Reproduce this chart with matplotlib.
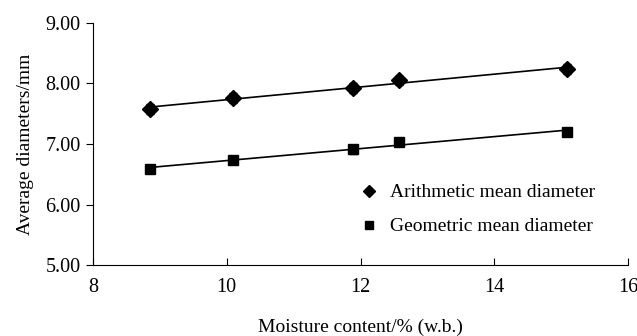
import numpy as np
import matplotlib
matplotlib.use("Agg")
import matplotlib.pyplot as plt

plt.rcParams["font.family"] = "Liberation Serif"
plt.rcParams["mathtext.fontset"] = "stix"
plt.rcParams["font.size"] = 14

# values
moisture = [8.85, 10.1, 11.88, 12.58, 15.09]
arith_mean = [7.58, 7.76, 7.92, 8.05, 8.24]
arith_err = [0.08, 0.08, 0.08, 0.08, 0.08]
geo_mean = [6.59, 6.74, 6.91, 7.03, 7.20]
geo_err = [0.07, 0.06, 0.07, 0.07, 0.07]

fig = plt.figure(figsize=(6.37, 3.36), dpi=100)
ax = fig.add_axes([0.146, 0.211, 0.84, 0.721])

x = np.array(moisture)
xl = np.array([x.min(), x.max()])
for y, err, mk, ms, lab in [(arith_mean, arith_err, "D", 8, "Arithmetic mean diameter"),
                            (geo_mean, geo_err, "s", 7, "Geometric mean diameter")]:
    p = np.polyfit(x, y, 1)
    ax.plot(xl, np.polyval(p, xl), color="black", lw=1.2, zorder=2)
    ax.errorbar(x, y, yerr=err, fmt=mk, color="black", ms=ms, capsize=3,
                elinewidth=1, capthick=1, zorder=3)
    ax.plot([], [], mk, color="black", ms=ms - 1.5, label=lab)

ax.set_xlim(8, 16)
ax.set_ylim(5, 9)
ax.set_xticks([8, 10, 12, 14, 16])
ax.set_yticks([5, 6, 7, 8, 9])
ax.set_yticklabels(["%.2f" % v for v in [5, 6, 7, 8, 9]])
ax.tick_params(axis="x", direction="in", length=5, pad=9, labelsize=14.5)
ax.tick_params(axis="y", direction="out", length=5, pad=4, labelsize=14.5)
ax.spines["top"].set_visible(False)
ax.spines["right"].set_visible(False)
ax.set_xlabel("Moisture content/% (w.b.)", labelpad=16, fontsize=14)
ax.set_ylabel("Average diameters/mm", fontsize=14, labelpad=8)
ax.legend(loc="lower left", bbox_to_anchor=(0.465, 0.05), frameon=False,
          handlelength=1, handletextpad=0.6, labelspacing=0.85, fontsize=14)

fig.savefig("out.png", dpi=100)
